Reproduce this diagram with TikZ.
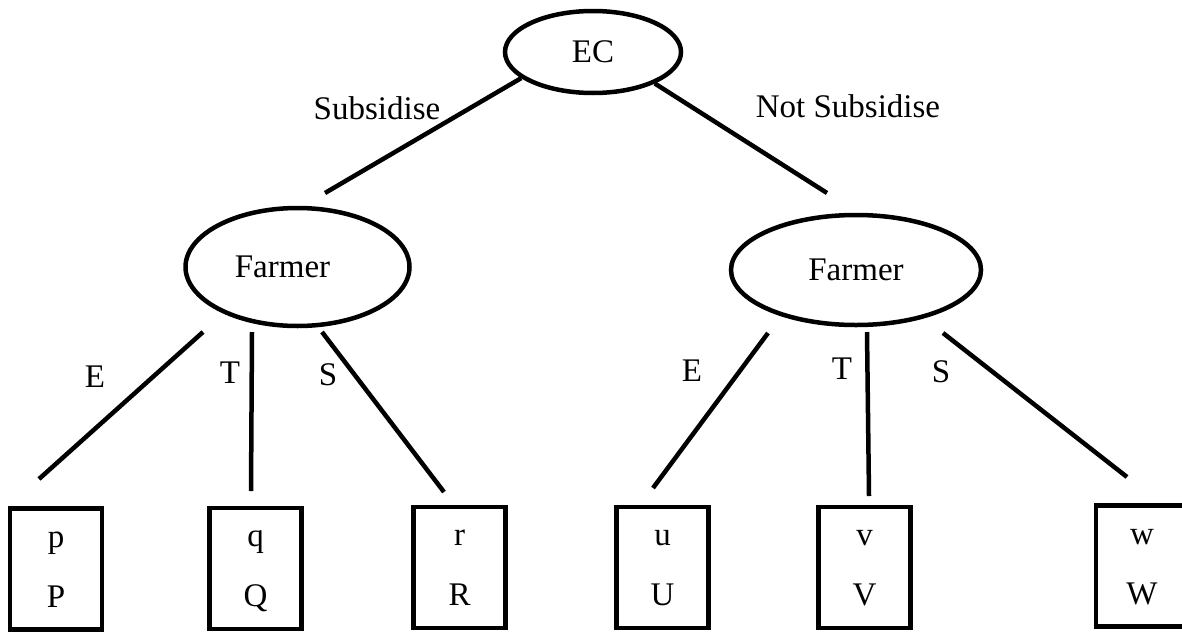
\documentclass[tikz,border=0pt]{standalone}
\usepackage{fontspec}
\setmainfont{Liberation Serif}
\usetikzlibrary{shapes.geometric}
\newcommand\payoffpair[2]{\rule{0pt}{24pt}#1\\#2\rule[-8pt]{0pt}{8pt}}
\begin{document}
\begin{tikzpicture}[x=1pt,y=-1pt,
  lbl/.style={font=\fontsize{33}{40}\selectfont, inner sep=0pt},
  oval/.style={ellipse, draw, line width=4.5pt, inner sep=0pt, font=\fontsize{33}{40}\selectfont},
  payoff/.style={rectangle, draw, line width=4.5pt, minimum width=92pt, minimum height=121pt, inner sep=0pt, align=center, font=\fontsize{33}{60}\selectfont},
  edge/.style={line width=4.5pt}]
\useasboundingbox (0,0) rectangle (1182,632);
\clip (0,0) rectangle (1182,632);

% decision nodes
\node[oval, minimum width=176pt, minimum height=82pt] (EC) at (593,52) {EC};
\node[oval, minimum width=224pt, minimum height=118pt] (LF) at (297.5,267) {\hspace*{-30pt}Farmer};
\node[oval, minimum width=250pt, minimum height=110pt] (RF) at (856,270) {Farmer};

% payoff boxes
\node[payoff] (bp) at (56,569)    {\payoffpair{p}{P}};
\node[payoff] (bq) at (255.5,568.5) {\payoffpair{q}{Q}};
\node[payoff] (br) at (459.5,567.5) {\payoffpair{r}{R}};
\node[payoff] (bu) at (662.5,567.5) {\payoffpair{u}{U}};
\node[payoff] (bv) at (864.5,567.5) {\payoffpair{v}{V}};
\node[payoff] (bw) at (1142,566) {\payoffpair{w}{W}};

% free ends of connectors
\coordinate (sL) at (325,193);
\coordinate (sR) at (827,193);
\coordinate (lE1) at (203,332); \coordinate (lE2) at (39,479);
\coordinate (lT1) at (252,332); \coordinate (lT2) at (251,491);
\coordinate (lS1) at (322,332); \coordinate (lS2) at (444,492);
\coordinate (rE1) at (768,333); \coordinate (rE2) at (653,488);
\coordinate (rT1) at (867,332); \coordinate (rT2) at (869,496);
\coordinate (rS1) at (943,333); \coordinate (rS2) at (1127,477);

% connectors
\draw[edge] (EC.200.6) -- (sL);
\draw[edge] (EC.-27) -- (sR);
\draw[edge] (lE1) -- (lE2);
\draw[edge] (lT1) -- (lT2);
\draw[edge] (lS1) -- (lS2);
\draw[edge] (rE1) -- (rE2);
\draw[edge] (rT1) -- (rT2);
\draw[edge] (rS1) -- (rS2);

% labels
\node[lbl] (tSub) at (377,108) {Subsidise};
\node[lbl] (tNot) at (848,106) {Not Subsidise};
\node[lbl] (tlE) at (95,377) {E};
\node[lbl] (tlT) at (230,373) {T};
\node[lbl] (tlS) at (328,375) {S};
\node[lbl] (trE) at (692,371) {E};
\node[lbl] (trT) at (842,369) {T};
\node[lbl] (trS) at (941,372) {S};
\end{tikzpicture}
\end{document}
